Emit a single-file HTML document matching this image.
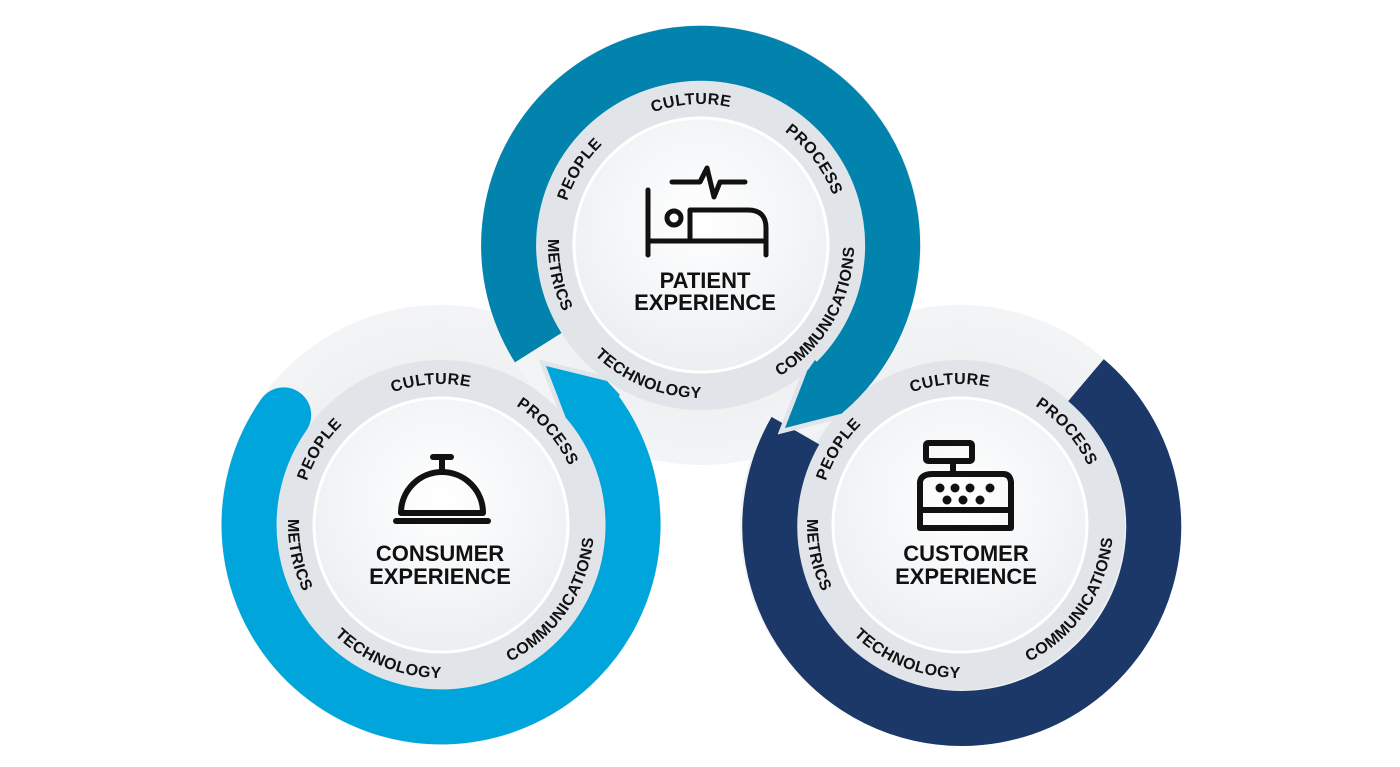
<!DOCTYPE html>
<html><head><meta charset="utf-8"><style>
html,body{margin:0;padding:0;background:#fff;}
svg{display:block;}
.lbl{font-family:"Liberation Sans",sans-serif;font-weight:bold;font-size:16px;fill:#111;letter-spacing:0.5px;}
.ttl{font-family:"Liberation Sans",sans-serif;font-weight:bold;font-size:22px;fill:#111;text-anchor:middle;}
</style></head><body>
<svg width="1400" height="767" viewBox="0 0 1400 767" xmlns="http://www.w3.org/2000/svg">
<defs>
<radialGradient id="wg" cx="50%" cy="40%" r="60%"><stop offset="0" stop-color="#ffffff"/><stop offset="1" stop-color="#eceff2"/></radialGradient>
<radialGradient id="dg" cx="50%" cy="50%" r="50%"><stop offset="0.7" stop-color="#eef0f2"/><stop offset="1" stop-color="#f3f4f6"/></radialGradient>
</defs>

<circle cx="441" cy="525" r="220" fill="url(#dg)"/>
<circle cx="960" cy="525" r="220" fill="url(#dg)"/>
<circle cx="701" cy="245" r="220" fill="url(#dg)"/>
<circle cx="701" cy="245" r="165" fill="#e1e5e9"/>
<circle cx="701" cy="245" r="127" fill="url(#wg)" stroke="#fff" stroke-width="3"/>
<circle cx="441" cy="525" r="165" fill="#e1e5e9"/>
<circle cx="441" cy="525" r="127" fill="url(#wg)" stroke="#fff" stroke-width="3"/>
<circle cx="960" cy="525" r="165" fill="#e1e5e9"/>
<circle cx="960" cy="525" r="127" fill="url(#wg)" stroke="#fff" stroke-width="3"/>

<path d="M1086 380.1 A192 192 0 1 1 795.4 430.6" fill="none" stroke="#1c3868" stroke-width="55"/>
<path d="M283.7 414.9 A192 192 0 1 0 586 399" fill="none" stroke="#00a5dc" stroke-width="55"/>
<circle cx="283.7" cy="414.9" r="27.5" fill="#00a5dc"/>
<path d="M538.2 347.7 A192 192 0 1 1 824.4 392.1" fill="none" stroke="#0283ad" stroke-width="55"/>

<polyline points="607,381 546,366 565.5,417" fill="none" stroke="#e1e5e9" stroke-width="9" stroke-linejoin="miter"/>
<polygon points="607,381 546,366 565.5,417 580,430 620,395" fill="#00a5dc"/>
<polyline points="842,413.5 785,428 807,371.4" fill="none" stroke="#e1e5e9" stroke-width="9" stroke-linejoin="miter"/>
<polygon points="842,413.5 785,428 807,371.4 815,360 850,400" fill="#0283ad"/>

<path id="tcw" d="M701 386 A141 141 0 1 1 701 104 A141 141 0 1 1 701 386" fill="none"/>
<path id="tccw" d="M701 92 A153 153 0 1 0 701 398 A153 153 0 1 0 701 92" fill="none"/>
<path id="lcw" d="M441 666 A141 141 0 1 1 441 384 A141 141 0 1 1 441 666" fill="none"/>
<path id="lccw" d="M441 372 A153 153 0 1 0 441 678 A153 153 0 1 0 441 372" fill="none"/>
<path id="rcw" d="M960 666 A141 141 0 1 1 960 384 A141 141 0 1 1 960 666" fill="none"/>
<path id="rccw" d="M960 372 A153 153 0 1 0 960 678 A153 153 0 1 0 960 372" fill="none"/>

<g class="lbl" text-anchor="middle">
<text><textPath href="#tcw" startOffset="300">PEOPLE</textPath></text>
<text><textPath href="#tcw" startOffset="433">CULTURE</textPath></text>
<text><textPath href="#tcw" startOffset="573">PROCESS</textPath></text>
<text><textPath href="#tccw" startOffset="272">METRICS</textPath></text>
<text><textPath href="#tccw" startOffset="422">TECHNOLOGY</textPath></text>
<text><textPath href="#tccw" startOffset="641">COMMUNICATIONS</textPath></text>

<text><textPath href="#lcw" startOffset="300">PEOPLE</textPath></text>
<text><textPath href="#lcw" startOffset="433">CULTURE</textPath></text>
<text><textPath href="#lcw" startOffset="563">PROCESS</textPath></text>
<text><textPath href="#lccw" startOffset="272">METRICS</textPath></text>
<text><textPath href="#lccw" startOffset="422">TECHNOLOGY</textPath></text>
<text><textPath href="#lccw" startOffset="630">COMMUNICATIONS</textPath></text>

<text><textPath href="#rcw" startOffset="300">PEOPLE</textPath></text>
<text><textPath href="#rcw" startOffset="433">CULTURE</textPath></text>
<text><textPath href="#rcw" startOffset="563">PROCESS</textPath></text>
<text><textPath href="#rccw" startOffset="272">METRICS</textPath></text>
<text><textPath href="#rccw" startOffset="422">TECHNOLOGY</textPath></text>
<text><textPath href="#rccw" startOffset="630">COMMUNICATIONS</textPath></text>
</g>

<text class="ttl" x="705" y="288">PATIENT</text>
<text class="ttl" x="705" y="310">EXPERIENCE</text>
<text class="ttl" x="440" y="561">CONSUMER</text>
<text class="ttl" x="440" y="584">EXPERIENCE</text>
<text class="ttl" x="966" y="561">CUSTOMER</text>
<text class="ttl" x="966" y="584">EXPERIENCE</text>

<g fill="none" stroke="#111" stroke-width="5" stroke-linejoin="round" stroke-linecap="round">
<line x1="648" y1="190" x2="648" y2="255"/>
<line x1="648" y1="241" x2="766" y2="241"/>
<line x1="766" y1="241" x2="766" y2="255"/>
<circle cx="674" cy="218" r="7"/>
<path d="M690 241 V210 H748 Q766 210 766 228 V241"/>
<path d="M672 182 H700 L707 168 L714 197 L720 182 H745"/>
</g>

<g fill="none" stroke="#111" stroke-width="6" stroke-linecap="round">
<path d="M401 513 A41 41 0 0 1 483 513 Z" stroke-linejoin="round"/>
<line x1="396" y1="521" x2="488" y2="521"/>
<line x1="433" y1="457" x2="451" y2="457"/>
<line x1="442" y1="457" x2="442" y2="470"/>
</g>

<g fill="none" stroke="#111" stroke-width="6" stroke-linejoin="round">
<rect x="926" y="443" width="46" height="18" rx="2"/>
<line x1="953" y1="461" x2="953" y2="474"/>
<path d="M933 474 H1003 Q1010 474 1011 482 V528 H920 V482 Q921 474 933 474 Z"/>
<line x1="920" y1="510" x2="1011" y2="510"/>
</g>
<g fill="#111">
<circle cx="940" cy="488" r="4.5"/><circle cx="955" cy="488" r="4.5"/><circle cx="970" cy="488" r="4.5"/><circle cx="990" cy="488" r="4.5"/>
<circle cx="947" cy="500" r="4.5"/><circle cx="963" cy="500" r="4.5"/><circle cx="980" cy="500" r="4.5"/>
</g>
</svg>
</body></html>
